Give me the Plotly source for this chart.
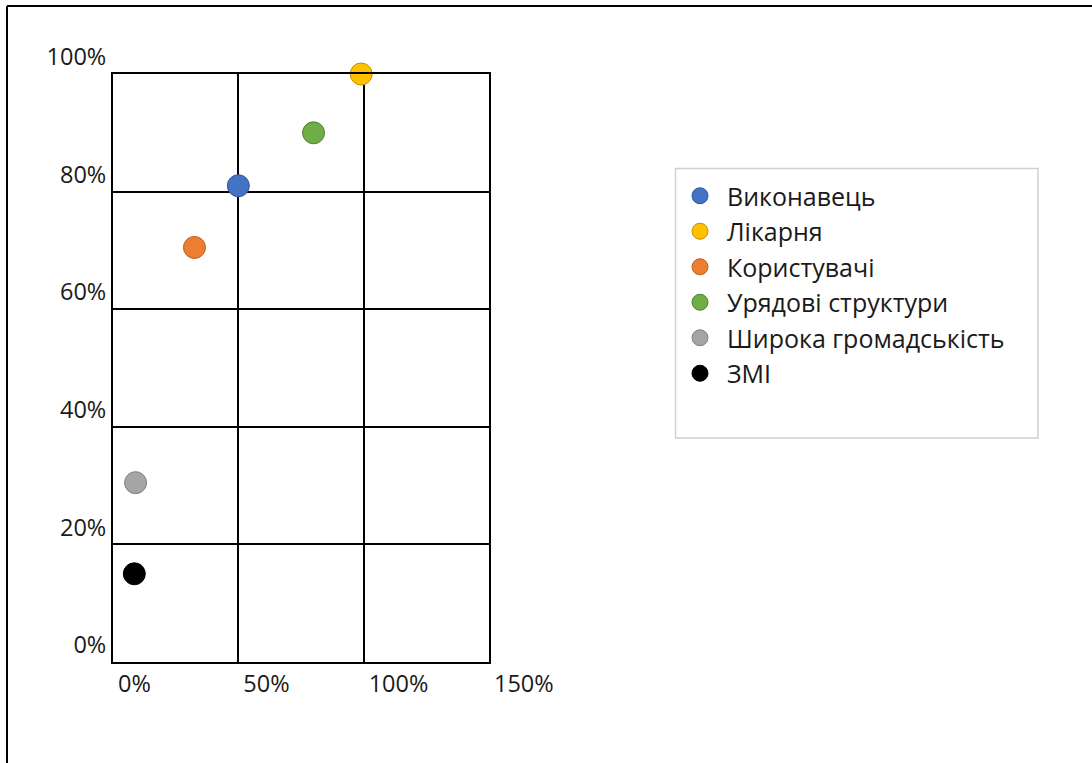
import plotly.graph_objects as go

# ---- data ----
categories = ["Виконавець", "Лікарня", "Користувачі", "Урядові структури",
              "Широка громадськість", "ЗМІ"]
x_values = [0.50, 0.99, 0.325, 0.80, 0.09, 0.085]
y_values = [0.81, 1.00, 0.705, 0.90, 0.305, 0.15]
fill_colors = ["#4472C4", "#FFC000", "#ED7D31", "#70AD47", "#A5A5A5", "#000000"]
edge_colors = ["#2F5597", "#C09000", "#B85F22", "#507E32", "#7F7F7F", "#000000"]
x_ticks = [0, 0.5, 1.0, 1.5]
x_tick_labels = ["0%", "50%", "100%", "150%"]
y_ticks = [0, 0.2, 0.4, 0.6, 0.8, 1.0]
y_tick_labels = ["0%", "20%", "40%", "60%", "80%", "100%"]

W, H = 1092, 763
L, R, T, B = 113, 489, 74, 662  # plot area in pixels


def px(xp):
    return (xp - L) / (R - L)


def py(yp):
    return (B - yp) / (B - T)


fig = go.Figure()
for i, name in enumerate(categories):
    fig.add_trace(go.Scatter(
        x=[x_values[i]], y=[y_values[i]], mode="markers", name=name,
        marker=dict(size=22, color=fill_colors[i],
                    line=dict(color=edge_colors[i], width=1)),
        cliponaxis=False,
    ))

FONT = "Open Sans"
fig.update_layout(
    width=W, height=H,
    margin=dict(l=L, r=W - R, t=T, b=H - B, pad=0),
    paper_bgcolor="white", plot_bgcolor="white",
    font=dict(family=FONT, color="#1a1a1a"),
    showlegend=True,
    legend=dict(
        x=px(673), y=py(173), xanchor="left", yanchor="top",
        bgcolor="rgba(0,0,0,0)", borderwidth=0,
        font=dict(family=FONT, size=25, color="#1a1a1a"),
        itemwidth=44,
    ),
    xaxis=dict(
        range=[0, 1.5], tickmode="array", tickvals=x_ticks, ticktext=x_tick_labels,
        showgrid=True, gridcolor="black", gridwidth=1.6,
        showline=True, linecolor="black", linewidth=2, mirror=True,
        zeroline=False, ticks="", ticklabelposition="outside right",
        ticklabelshift=4, ticklabelstandoff=0,
        tickfont=dict(family=FONT, size=23.5, color="#1a1a1a"),
        fixedrange=True,
    ),
    yaxis=dict(
        range=[0, 1.0], tickmode="array", tickvals=y_ticks, ticktext=y_tick_labels,
        showgrid=True, gridcolor="black", gridwidth=1.6,
        showline=True, linecolor="black", linewidth=2, mirror=True,
        zeroline=False, ticks="", ticklabelshift=-17, ticklabelstandoff=0,
        tickfont=dict(family=FONT, size=23.5, color="#1a1a1a"),
        fixedrange=True,
    ),
    shapes=[
        # legend frame
        dict(type="rect", xref="paper", yref="paper",
             x0=px(675.5), x1=px(1038), y0=py(168.5), y1=py(438),
             line=dict(color="#d0d0d0", width=1.5), fillcolor="rgba(0,0,0,0)"),
        # outer frame (top and left edges)
        dict(type="line", xref="paper", yref="paper",
             x0=px(7), x1=px(1100), y0=py(6), y1=py(6),
             line=dict(color="black", width=2)),
        dict(type="line", xref="paper", yref="paper",
             x0=px(7), x1=px(7), y0=py(6), y1=py(770),
             line=dict(color="black", width=2)),
    ],
)

fig.write_html("out.html")
